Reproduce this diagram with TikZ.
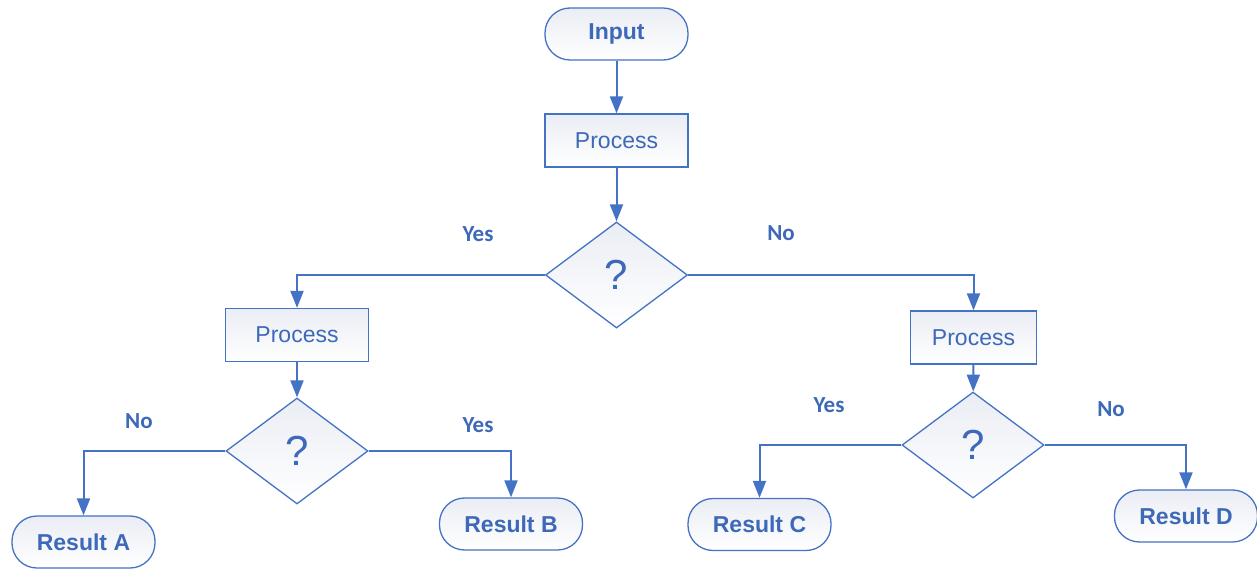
\documentclass[tikz,border=0pt]{standalone}
\usepackage{fontspec}
\setmainfont{Liberation Sans}
\newfontfamily\labelfont{Carlito}
\usetikzlibrary{arrows.meta,shapes.geometric}
\definecolor{flowblue}{HTML}{4472C4}
\definecolor{flowtext}{HTML}{3D69B8}
\definecolor{flowfill}{HTML}{EAEDF4}
\begin{document}
\begin{tikzpicture}[x=1pt,y=-1pt,
  shapebase/.style={draw=flowblue,line width=1.3pt,top color=flowfill,bottom color=white,
    text=flowtext,inner sep=0pt},
  terminal/.style={shapebase,rounded corners=25pt,minimum width=143pt,minimum height=52pt,
    font=\bfseries\fontsize{23}{26}\selectfont},
  procbox/.style={shapebase,minimum width=143pt,minimum height=53pt,
    font=\fontsize{23}{26}\selectfont},
  decision/.style={shapebase,diamond,minimum width=142pt,minimum height=106pt,
    font=\fontsize{42}{46}\selectfont},
  branch/.style={text=flowtext,font=\labelfont\bfseries\fontsize{23}{26}\selectfont},
  flow/.style={draw=flowblue,line width=2pt,-{Triangle[width=13pt,length=17pt]}}
]
\useasboundingbox (0,0) rectangle (1257,569);

% main column
\node[terminal] (in) at (616.5,34) {Input};
\node[procbox] (p1) at (616.5,140.5) {Process};
\node[decision] (d1) at (616.5,275) {?};

% left branch
\node[procbox] (p2) at (297,335) {Process};
\node[decision] (d2) at (297,451) {?};
\node[terminal] (ra) at (83.5,542) {Result A};
\node[terminal] (rb) at (511,524) {Result B};

% right branch
\node[procbox,minimum width=126pt] (p3) at (973.5,337.5) {Process};
\node[decision] (d3) at (973,445) {?};
\node[terminal] (rc) at (759.5,524.5) {Result C};
\node[terminal] (rd) at (1186,516) {Result D};

% branch labels
\node[branch] (yes1) at (478,234) {Yes};
\node[branch] (no1) at (781,233) {No};
\node[branch] (no2) at (139,421) {No};
\node[branch] (yes2) at (478,425) {Yes};
\node[branch] (yes3) at (829,405) {Yes};
\node[branch] (no3) at (1111,409) {No};

% connectors
\draw[flow] (in) -- (p1);
\draw[flow] (p1) -- (d1);
\draw[flow] (d1.west) -| (p2.north);
\draw[flow] (d1.east) -| (p3.north);
\draw[flow] (p2) -- (d2);
\draw[flow] (p3) -- (d3);
\draw[flow] (d2.west) -| (ra.north);
\draw[flow] (d2.east) -| (rb.north);
\draw[flow] (d3.west) -| (rc.north);
\draw[flow] (d3.east) -| (rd.north);
\end{tikzpicture}
\end{document}
